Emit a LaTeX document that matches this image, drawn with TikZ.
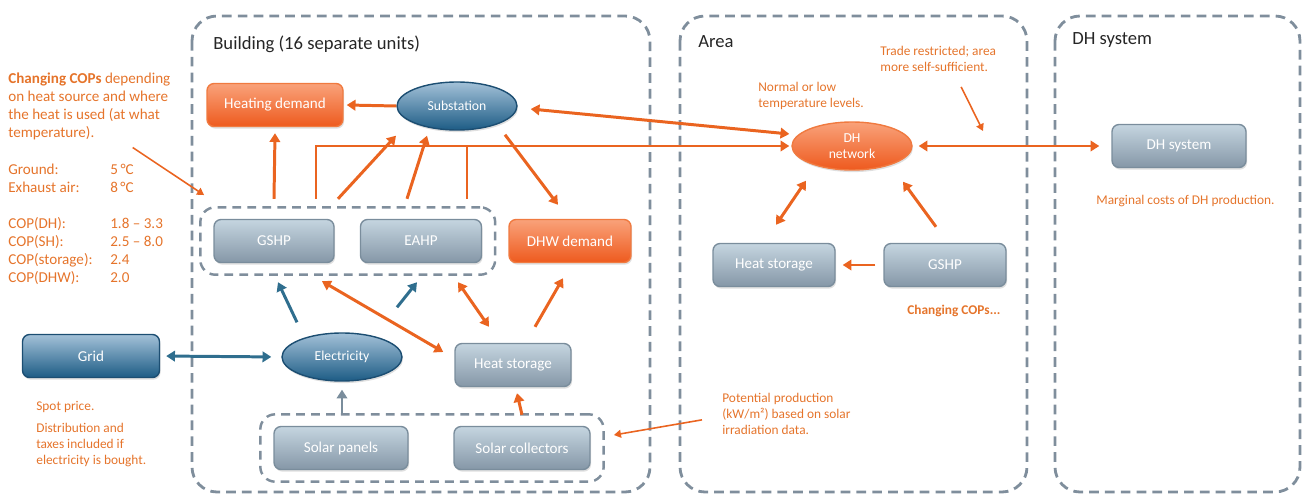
\documentclass[tikz,border=0pt]{standalone}
\usepackage{fontspec}
\setmainfont{Carlito}
\usetikzlibrary{arrows.meta,fit,shapes.geometric,shadows}

\definecolor{notecol}{HTML}{E5742B}
\definecolor{flowcol}{HTML}{EA6420}
\definecolor{elcol}{HTML}{2F6E8E}
\definecolor{dashcol}{HTML}{7F8E9C}
\definecolor{boxline}{HTML}{7A8D9C}
\definecolor{boxtop}{HTML}{C5D5E0}
\definecolor{boxbot}{HTML}{8597A7}
\definecolor{demline}{HTML}{F07A40}
\definecolor{demtop}{HTML}{F9A27A}
\definecolor{dembot}{HTML}{EE5A1E}
\definecolor{hubline}{HTML}{1C4E72}
\definecolor{hubtop}{HTML}{A3C1D8}
\definecolor{hubbot}{HTML}{1D5C85}

\begin{document}
\begin{tikzpicture}[x=0.02cm, y=-0.02cm,
    >={Triangle[length=5pt,width=6pt]},
    box/.style={draw=boxline, line width=0.8pt, rounded corners=4pt,
      top color=boxtop, bottom color=boxbot, text=white,
      minimum height=0.86cm, font=\fontsize{8.6}{10}\selectfont,
      drop shadow={opacity=0.25, shadow xshift=0.6pt, shadow yshift=-1.2pt}},
    demand/.style={box, draw=demline, top color=demtop, bottom color=dembot},
    gridbox/.style={box, draw=hubline, top color=hubtop, bottom color=hubbot},
    hub/.style={ellipse, draw=hubline, line width=0.8pt,
      top color=hubtop, bottom color=hubbot, text=white, align=center,
      minimum width=2.4cm, minimum height=0.96cm, inner sep=1pt,
      font=\fontsize{7.8}{8.8}\selectfont,
      drop shadow={opacity=0.25, shadow xshift=0.6pt, shadow yshift=-1.2pt}},
    hotspot/.style={hub, draw=demline, top color=demtop, bottom color=dembot},
    region/.style={draw=dashcol, line width=1.6pt, dash pattern=on 5.5pt off 3.5pt,
      rounded corners=0.5cm},
    group/.style={draw=dashcol, line width=1.4pt, dash pattern=on 5pt off 3.5pt,
      rounded corners=0.3cm, inner xsep=0.26cm, inner ysep=0.23cm},
    title/.style={anchor=west, inner sep=0pt, text=black!85,
      font=\fontsize{10.6}{12}\selectfont},
    note/.style={anchor=north west, inner sep=0pt, text=notecol, align=left,
      font=\fontsize{7.6}{9}\selectfont},
    pipe/.style={draw=flowcol, line width=1.7pt},
    flow/.style={pipe, ->},
    flowboth/.style={pipe, <->},
    elflow/.style={draw=elcol, line width=1.7pt, ->},
    elboth/.style={draw=elcol, line width=1.7pt, <->},
    sunflow/.style={draw=boxline, line width=1.7pt, ->},
    notearrow/.style={draw=flowcol, line width=0.9pt, -{Triangle[length=4pt,width=4.5pt]}}]
  \useasboundingbox (0,0) rectangle (1303,497);

  % the three levels
  \draw[region] (192,16) rectangle (650,492);
  \draw[region] (680,16) rectangle (1027,492);
  \draw[region] (1055,16) rectangle (1300,492);
  \node[title] (buildT) at (213,44) {Building (16 separate units)};
  \node[title] (areaT) at (698,42) {Area};
  \node[title] (dhT) at (1072,40) {DH system};

  % building
  \node[demand, minimum width=2.72cm] (heatD) at (275,105) {Heating demand};
  \node[hub] (subst) at (457,106) {Substation};
  \node[box, minimum width=2.4cm] (gshpB) at (274,241) {GSHP};
  \node[box, minimum width=2.42cm] (eahpB) at (421,241) {EAHP};
  \node[demand, minimum width=2.44cm] (dhwD) at (570,241) {DHW demand};
  \node[hub] (elec) at (342,357) {Electricity};
  \node[box, minimum width=2.32cm] (heatB) at (513,365) {Heat storage};
  \node[box, minimum width=2.68cm] (solarP) at (341,448) {Solar panels};
  \node[box, minimum width=2.72cm] (solarC) at (522,448) {Solar collectors};
  \node[group, fit=(gshpB)(eahpB)] (hpG) {};
  \node[group, fit=(solarP)(solarC)] (solarG) {};
  \node[gridbox, minimum width=2.74cm] (grid) at (91,356) {Grid};

  % area and DH system
  \node[hotspot] (dhnet) at (852,146) {DH\\network};
  \node[box, minimum width=2.44cm] (heatA) at (774,265) {Heat storage};
  \node[box, minimum width=2.44cm] (gshpA) at (945,265) {GSHP};
  \node[box, minimum width=2.68cm] (dhsys) at (1179,146) {DH system};

  % heat flows
  \draw[flow] (subst.west) -- ([xshift=0.06cm]heatD.east);
  \draw[flow] ([yshift=0.4cm]gshpB.north) -- ([yshift=-0.12cm]heatD.south);
  \draw[flow] ([xshift=0.84cm, yshift=0.4cm]gshpB.north) |- ([xshift=-0.04cm]dhnet.west);
  \draw[pipe] ([xshift=0.92cm, yshift=0.4cm]eahpB.north) -- ([xshift=0.92cm]eahpB.north |- dhnet.west);
  \draw[flow] ([xshift=1.28cm, yshift=0.4cm]gshpB.north) -- ([xshift=-1.22cm, yshift=-0.1cm]subst.south);
  \draw[flow] ([xshift=-0.28cm, yshift=0.4cm]eahpB.north) -- ([xshift=-0.6cm, yshift=-0.1cm]subst.south);
  \draw[flow] ([xshift=0.96cm, yshift=-0.08cm]subst.south) -- ([xshift=-0.24cm, yshift=0.28cm]dhwD.north);
  \draw[flowboth] ([xshift=0.26cm, yshift=-0.06cm]subst.east) -- ([xshift=-0.04cm, yshift=0.24cm]dhnet.west);
  \draw[flowboth, shorten <=0.12cm, shorten >=0.24cm] (dhnet.east) -- (dhsys.west);
  \draw[flowboth] ([xshift=-0.92cm, yshift=-0.2cm]dhnet.south) -- ([xshift=0.04cm, yshift=0.36cm]heatA.north);
  \draw[flow] ([xshift=-0.18cm, yshift=0.32cm]gshpA.north) -- ([xshift=1.02cm, yshift=-0.22cm]dhnet.south);
  \draw[flow, shorten <=0.16cm, shorten >=0.14cm] (gshpA.west) -- (heatA.east);
  \draw[flowboth] ([xshift=-0.22cm, yshift=0.26cm]heatB.west) -- ([xshift=0.96cm, yshift=-0.36cm]gshpB.south);
  \draw[flowboth] ([xshift=-0.48cm, yshift=0.32cm]heatB.north) -- ([xshift=0.74cm, yshift=-0.38cm]eahpB.south);
  \draw[flow] ([xshift=0.44cm, yshift=0.32cm]heatB.north) -- ([xshift=-0.14cm, yshift=-0.3cm]dhwD.south);
  \draw[flow] ([yshift=0.22cm]solarC.north) -- ([xshift=0.08cm, yshift=-0.12cm]heatB.south);

  % electricity
  \draw[elboth, shorten <=0.12cm, shorten >=0.2cm] (grid.east) -- (elec.west);
  \draw[elflow] ([xshift=-0.9cm, yshift=0.2cm]elec.north) -- ([xshift=0.08cm, yshift=-0.38cm]gshpB.south);
  \draw[elflow] ([xshift=1.1cm, yshift=0.5cm]elec.north) -- ([xshift=-0.08cm, yshift=-0.38cm]eahpB.south);
  \draw[sunflow, shorten >=0.16cm] (elec.south |- solarG.north) -- (elec.south);

  % notes
  \node[note, font=\fontsize{8.6}{10.2}\selectfont] (copHead) at (8,73)
    {\textbf{Changing COPs} depending\\on heat source and where\\the heat is used (at what\\temperature).};
  \node[note, font=\fontsize{8.6}{10.2}\selectfont] (copTab) at (8,162)
    {\begin{tabular}{@{}p{2.04cm}@{}l@{}}
      Ground: & 5\,°C\\
      Exhaust air: & 8\,°C\\
      & \\
      COP(DH): & 1.8 – 3.3\\
      COP(SH): & 2.5 – 8.0\\
      COP(storage): & 2.4\\
      COP(DHW): & 2.0
    \end{tabular}};
  \node[note] (spotT) at (36,401) {Spot price.};
  \node[note] (taxT) at (36,423) {Distribution and\\taxes included if\\electricity is bought.};
  \node[note] (tempT) at (758,82) {Normal or low\\temperature levels.};
  \node[note] (tradeT) at (880,46) {Trade restricted; area\\more self-sufficient.};
  \node[note, font=\bfseries\fontsize{7.6}{9}\selectfont] (copNote) at (907,305) {Changing COPs...};
  \node[note] (potT) at (722,393) {Potential production\\(kW/m²) based on solar\\irradiation data.};
  \node[note] (margT) at (1096,195) {Marginal costs of DH production.};
  \coordinate (tradeEnd) at (983,131);

  \draw[notearrow] ([xshift=-0.76cm, yshift=-0.14cm]copHead.south east) -- ([xshift=0.1cm, yshift=0.22cm]hpG.north west);
  \draw[notearrow] ([xshift=0.46cm, yshift=-0.3cm]tradeT.south) -- (tradeEnd);
  \draw[notearrow] ([xshift=-0.4cm, yshift=-0.12cm]potT.west) -- ([xshift=0.18cm, yshift=0.26cm]solarG.east);
\end{tikzpicture}
\end{document}
